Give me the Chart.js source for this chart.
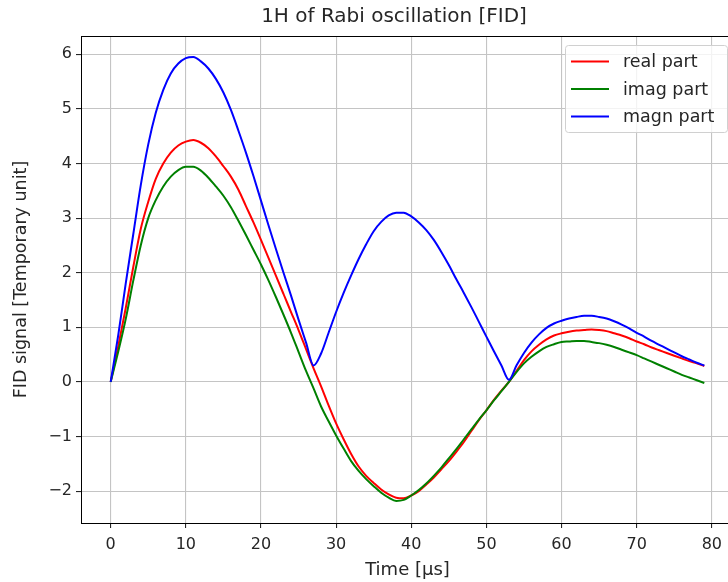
<!DOCTYPE html>
<html>
<head>
<meta charset="utf-8">
<script src="https://cdn.jsdelivr.net/npm/chart.js@4.4.0/dist/chart.umd.min.js"></script>
<style>
  html, body { margin: 0; padding: 0; overflow: hidden; background: #fff; }
  canvas { display: block; }
</style>
</head>
<body>
<canvas id="grafico" width="734" height="582"></canvas>
<script>
// time axis [us]
const tiempos = [0, 1, 2, 3, 4, 5, 6, 7, 8, 9, 10, 11, 12, 13, 14, 15, 16, 17, 18, 19,
  20, 21, 22, 23, 24, 25, 26, 27, 28, 29, 30, 31, 32, 33, 34, 35, 36, 37, 38, 39,
  40, 41, 42, 43, 44, 45, 46, 47, 48, 49, 50, 51, 52, 53, 54, 55, 56, 57, 58, 59,
  60, 61, 62, 63, 64, 65, 66, 67, 68, 69, 70, 71, 72, 73, 74, 75, 76, 77, 78, 79];

const realPart = [0, 0.65, 1.35, 2.1, 2.8, 3.3, 3.72, 4.0, 4.2, 4.33,
  4.4, 4.43, 4.38, 4.28, 4.13, 3.95, 3.76, 3.52, 3.22, 2.92,
  2.6, 2.27, 1.94, 1.61, 1.28, 0.95, 0.6, 0.25, -0.08, -0.43,
  -0.76, -1.05, -1.32, -1.55, -1.72, -1.85, -1.97, -2.06, -2.12, -2.13,
  -2.08, -2.0, -1.88, -1.75, -1.6, -1.45, -1.28, -1.1, -0.9, -0.7,
  -0.52, -0.33, -0.16, 0.0, 0.2, 0.4, 0.56, 0.68, 0.78, 0.85,
  0.89, 0.92, 0.94, 0.95, 0.96, 0.95, 0.93, 0.89, 0.85, 0.8,
  0.74, 0.69, 0.63, 0.58, 0.53, 0.48, 0.43, 0.38, 0.34, 0.29];

const imagPart = [0, 0.55, 1.15, 1.85, 2.5, 3.0, 3.33, 3.58, 3.76, 3.88,
  3.94, 3.94, 3.87, 3.74, 3.58, 3.41, 3.2, 2.95, 2.69, 2.42,
  2.15, 1.86, 1.55, 1.23, 0.9, 0.55, 0.2, -0.12, -0.45, -0.72,
  -0.98, -1.22, -1.45, -1.63, -1.78, -1.91, -2.03, -2.12, -2.18, -2.16,
  -2.08, -1.98, -1.86, -1.72, -1.57, -1.40, -1.23, -1.05, -0.87, -0.69,
  -0.52, -0.34, -0.17, 0.0, 0.18, 0.34, 0.46, 0.56, 0.64, 0.69,
  0.73, 0.74, 0.75, 0.75, 0.73, 0.71, 0.68, 0.64, 0.59, 0.54,
  0.49, 0.43, 0.37, 0.31, 0.25, 0.19, 0.13, 0.08, 0.03, -0.02];

const magnPart = [0, 0.85, 1.8, 2.7, 3.6, 4.35, 4.93, 5.35, 5.65, 5.83,
  5.93, 5.95, 5.87, 5.74, 5.55, 5.3, 4.98, 4.6, 4.2, 3.77,
  3.32, 2.87, 2.43, 2.0, 1.58, 1.14, 0.72, 0.3, 0.52, 0.9,
  1.28, 1.63, 1.95, 2.25, 2.52, 2.76, 2.93, 3.05, 3.1, 3.1,
  3.03, 2.92, 2.78, 2.6, 2.38, 2.14, 1.88, 1.63, 1.37, 1.1,
  0.83, 0.56, 0.3, 0.04, 0.3, 0.53, 0.72, 0.87, 0.99, 1.07,
  1.12, 1.16, 1.19, 1.21, 1.21, 1.19, 1.16, 1.11, 1.05, 0.98,
  0.9, 0.83, 0.75, 0.68, 0.61, 0.54, 0.47, 0.41, 0.35, 0.3];

const xTicks = [0, 10, 20, 30, 40, 50, 60, 70, 80];
const yTicks = [-2, -1, 0, 1, 2, 3, 4, 5, 6];
const chartTitle = '1H of Rabi oscillation [FID]';

const toPoints = (ys) => tiempos.map((t, i) => ({ x: t, y: ys[i] }));

Chart.defaults.font.family = "'DejaVu Sans', sans-serif";
Chart.defaults.color = '#262626';

// frame around the plot area + title over the axes (matplotlib style)
const frame = {
  id: 'frame',
  afterDatasetsDraw(chart) {
    const a = chart.chartArea, c = chart.ctx;
    c.save();
    c.strokeStyle = '#000';
    c.lineWidth = 1;
    c.strokeRect(Math.round(a.left) + 0.5, Math.round(a.top) + 0.5,
      Math.round(a.right - a.left), Math.round(a.bottom - a.top));
    c.font = "20px 'DejaVu Sans'";
    c.fillStyle = '#262626';
    c.textAlign = 'center';
    c.textBaseline = 'middle';
    c.fillText(chartTitle, 394, 17);
    c.restore();
  }
};

// legend box in the upper right corner
const legendBox = {
  id: 'legendBox',
  afterDraw(chart) {
    const c = chart.ctx;
    const x0 = 565, y0 = 45, w = 162, h = 87;
    c.save();
    c.beginPath();
    c.roundRect(x0 + 0.5, y0 + 0.5, w, h, 3);
    c.fillStyle = 'rgba(255,255,255,0.8)';
    c.fill();
    c.strokeStyle = '#d0d0d0';
    c.lineWidth = 1;
    c.stroke();
    const ds = chart.data.datasets;
    c.font = "17.5px 'DejaVu Sans'";
    c.textBaseline = 'middle';
    for (let i = 0; i < ds.length; i++) {
      const yy = 61.5 + i * 27.5;
      c.beginPath();
      c.moveTo(571, yy);
      c.lineTo(609, yy);
      c.strokeStyle = ds[i].borderColor;
      c.lineWidth = 2;
      c.stroke();
      c.fillStyle = '#262626';
      c.fillText(ds[i].label, 623, yy + 1);
    }
    c.restore();
  }
};

const ctx2 = document.getElementById('grafico').getContext('2d');

new Chart(ctx2, {
  type: 'line',
  data: {
    datasets: [
      { label: 'real part', data: toPoints(realPart), borderColor: '#ff0000', order: 3 },
      { label: 'imag part', data: toPoints(imagPart), borderColor: '#008000', order: 2 },
      { label: 'magn part', data: toPoints(magnPart), borderColor: '#0000ff', order: 1 }
    ]
  },
  options: {
    responsive: false,
    animation: false,
    layout: { padding: { top: 36, left: 0, right: 0, bottom: 0 } },
    elements: {
      line: { borderWidth: 2, cubicInterpolationMode: 'monotone', fill: false },
      point: { radius: 0 }
    },
    plugins: {
      legend: { display: false },
      tooltip: { enabled: false },
      title: { display: false }
    },
    scales: {
      x: {
        type: 'linear',
        min: -3.95,
        max: 82.95,
        afterBuildTicks: (s) => { s.ticks = xTicks.map(v => ({ value: v })); },
        afterFit: (s) => { s.height = 59; },
        ticks: { font: { size: 16 }, padding: 7, maxRotation: 0 },
        grid: { color: '#c4c4c4', lineWidth: 1.1, tickColor: '#262626', tickLength: 5 },
        border: { color: '#000', width: 1 },
        title: {
          display: true,
          text: 'Time [μs]',
          font: { size: 18 },
          padding: { top: 0, bottom: 1 }
        }
      },
      y: {
        min: -2.584,
        max: 6.335,
        afterBuildTicks: (s) => { s.ticks = yTicks.map(v => ({ value: v })); },
        afterFit: (s) => { s.width = 81; },
        ticks: {
          font: { size: 16 },
          padding: 4,
          callback: (v) => String(v).replace('-', '\u2212')
        },
        grid: { color: '#c4c4c4', lineWidth: 1.1, tickColor: '#262626', tickLength: 5 },
        border: { color: '#000', width: 1 },
        title: {
          display: true,
          text: 'FID signal [Temporary unit]',
          font: { size: 17.5 },
          padding: { top: 11, bottom: 0 }
        }
      }
    }
  },
  plugins: [frame, legendBox]
});
</script>
</body>
</html>
